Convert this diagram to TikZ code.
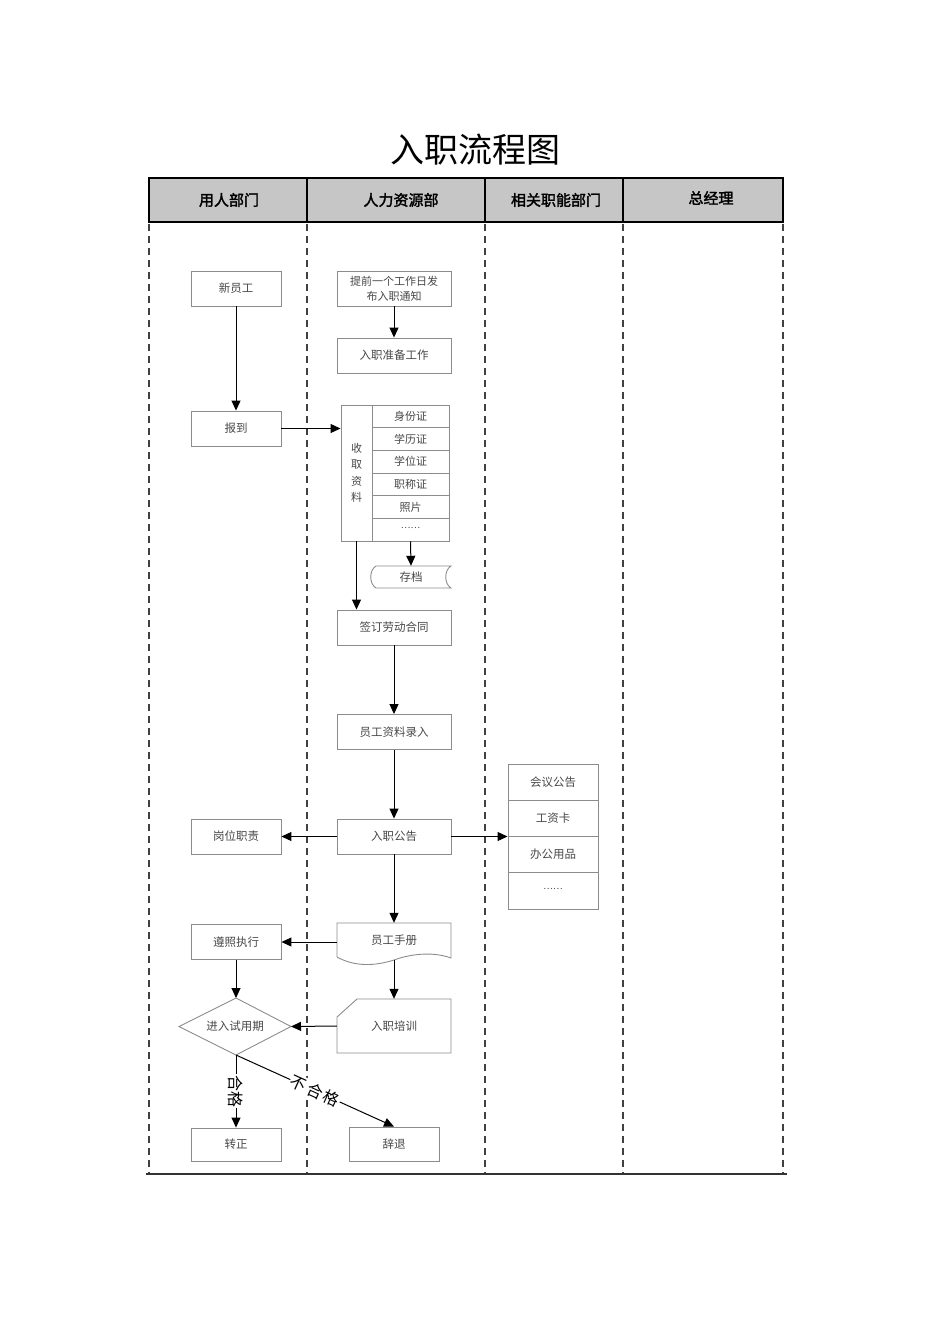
\documentclass[tikz,border=0pt]{standalone}
\usepackage{fontspec}
\newfontfamily\cjk{Noto Sans CJK SC}
\newfontfamily\cjkb[FakeBold=2]{Noto Sans CJK SC}
\usetikzlibrary{arrows.meta,calc,shapes.geometric}
\begin{document}
\begin{tikzpicture}[x=1pt,y=-1pt,
  txt/.style={font=\cjk\fontsize{11.5}{15}\selectfont, text=black!72},
  box/.style={txt, draw=black!45, line width=0.9pt, minimum width=90pt, minimum height=35pt, inner sep=0pt},
  wbox/.style={box, minimum width=114pt},
  cell/.style={box, minimum width=77pt, minimum height=22.67pt},
  rcell/.style={box, minimum width=90pt, minimum height=36.25pt},
  shp/.style={draw=black!45, line width=0.9pt},
  arr/.style={-{Triangle[length=10pt,width=9pt]}, line width=1pt, black},
  lane/.style={dash pattern=on 7pt off 5pt, line width=1.4pt, black!75},
  hd/.style={font=\cjkb\fontsize{15}{17}\selectfont, text=black},
  lbl/.style={font=\cjk\fontsize{16}{18}\selectfont, text=black, fill=white, inner sep=1pt}
]
\useasboundingbox (0,0) rectangle (950,1344);

% title
\node[font=\cjk\fontsize{34}{40}\selectfont] (title) at (475,150) {入职流程图};

% header
\draw[fill=gray!45, line width=1.3pt] (149,178) rectangle (783,222);
\foreach \x in {307,485,623} \draw[line width=1.3pt] (\x,178) -- (\x,222);
\node[hd] (h1) at (229,200) {用人部门};
\node[hd] (h2) at (401,200) {人力资源部};
\node[hd] (h3) at (556,200) {相关职能部门};
\node[hd] (h4) at (711,198) {总经理};

% lanes
\foreach \x in {149,307,485,623,783} \draw[lane] (\x,224) -- (\x,1174);
\draw[line width=1.3pt, black!80] (146,1174) -- (787,1174);

% nodes
\node[box] (xy) at (236,288.5) {新员工};
\node[box] (bd) at (236,428.5) {报到};
\node[wbox, align=center, font=\cjk\fontsize{11}{15}\selectfont] (tq) at (394,288.5) {提前一个工作日发\\布入职通知};
\node[wbox] (zb) at (394,355.5) {入职准备工作};

\node[box, minimum width=31pt, minimum height=136pt, align=center, font=\cjk\fontsize{11}{16.5}\selectfont] (sq) at (356.5,473) {收\\取\\资\\料};
\node[cell, font=\cjk\fontsize{11}{13}\selectfont] (r1) at (410.5,416.33) {身份证};
\node[cell, font=\cjk\fontsize{11}{13}\selectfont] (r2) at (410.5,439) {学历证};
\node[cell, font=\cjk\fontsize{11}{13}\selectfont] (r3) at (410.5,461.67) {学位证};
\node[cell, font=\cjk\fontsize{11}{13}\selectfont] (r4) at (410.5,484.33) {职称证};
\node[cell, font=\cjk\fontsize{11}{13}\selectfont] (r5) at (410.5,507) {照片};
\node[cell] (r6) at (410.5,529.67) {\raisebox{3pt}{\fontsize{9}{10}\selectfont ……}};

\draw[shp] (376,566) -- (451,566) .. controls (444,570) and (444,584) .. (451,588) -- (376,588) .. controls (369,584) and (369,570) .. (376,566);
\node[txt, minimum width=80pt, minimum height=22pt, inner sep=0pt] (cd) at (411,577) {存档};

\node[wbox] (qd) at (394,627.5) {签订劳动合同};
\node[wbox] (lr) at (394,732) {员工资料录入};
\node[wbox] (gg) at (394,836.5) {入职公告};
\node[box] (gw) at (236,836.5) {岗位职责};

\node[rcell] (t1) at (553,782.13) {会议公告};
\node[rcell] (t2) at (553,818.38) {工资卡};
\node[rcell] (t3) at (553,854.63) {办公用品};
\node[rcell] (t4) at (553,890.88) {\raisebox{3pt}{\fontsize{9}{10}\selectfont ……}};

% document shape
\draw[shp] (337,957) -- (337,923) -- (451,923) -- (451,958) .. controls (435,952) and (413,953) .. (394,960) .. controls (375,966) and (355,967) .. (337,957);
\node[txt, minimum width=114pt, minimum height=38pt, inner sep=0pt] (sc) at (394,942) {\raisebox{4pt}{员工手册}};
\coordinate (scb) at (394,960);

\node[box] (zz) at (236,942) {遵照执行};

% manual input shape
\draw[shp] (357,999) -- (451,999) -- (451,1053) -- (337,1053) -- (337,1017) -- cycle;
\node[txt, minimum width=114pt, minimum height=54pt, inner sep=0pt] (px) at (394,1026) {入职培训};

% decision diamond
\coordinate (syt) at (236,998);
\coordinate (syr) at (291,1026.5);
\coordinate (syb) at (236,1055);
\coordinate (syl) at (179,1026.5);
\draw[shp] (syt) -- (syr) -- (syb) -- (syl) -- cycle;
\node[txt, inner sep=0pt] (sy) at (235,1026.5) {进入试用期};

\node[box, minimum height=33pt] (zw) at (236,1144.5) {转正};
\node[box, minimum height=34pt] (ct) at (394,1144) {辞退};

% connectors
\draw[arr] (xy) -- (bd);
\draw[arr] (bd) -- (sq.west |- bd);
\draw[arr] (tq) -- (zb);
\draw[arr] (r6.south) -- (cd.north);
\draw[arr] (sq.south) -- (sq.south |- qd.north);
\draw[arr] (qd) -- (lr);
\draw[arr] (lr) -- (gg);
\draw[arr] (gg) -- (gw);
\draw[arr] (gg.east) -- (gg.east -| t1.west);
\draw[arr] (gg) -- (sc.north);
\draw[arr] (sc.west) -- (zz.east);
\draw[arr] (scb) -- (px.north);
\draw[arr] (px.west) -- (syr);
\draw[arr] (zz) -- (syt);
\draw[arr] (syb) -- node[lbl, rotate=-90] {合格} (zw.north);
\draw[arr] (syb) -- node[lbl, sloped, pos=0.5] {不\hspace{2pt}合\hspace{2pt}格} (ct.north);
\end{tikzpicture}
\end{document}
